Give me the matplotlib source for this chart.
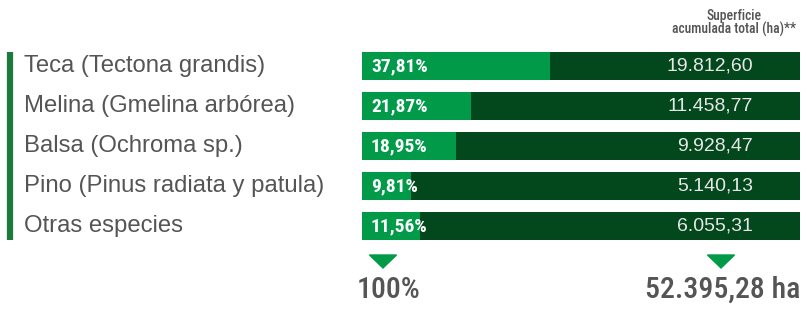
import matplotlib.pyplot as plt
from matplotlib.patches import Polygon
from matplotlib.transforms import blended_transform_factory

# datos
especies = ['Teca (Tectona grandis)', 'Melina (Gmelina arbórea)', 'Balsa (Ochroma sp.)',
            'Pino (Pinus radiata y patula)', 'Otras especies']
porcentajes = [37.81, 21.87, 18.95, 9.81, 11.56]
porcentajes_txt = ['37,81%', '21,87%', '18,95%', '9,81%', '11,56%']
superficie_txt = ['19.812,60', '11.458,77', '9.928,47', '5.140,13', '6.055,31']
total_pct = '100%'
total_ha = '52.395,28 ha'
titulo_col = 'Superficie\nacumulada total (ha)**'

VERDE_CLARO = '#009a49'
VERDE_OSCURO = '#03481c'
GRIS = '#555555'
ESCALA = 88  # ancho total de la barra en unidades de porcentaje

W, H = 808, 315
fig = plt.figure(figsize=(W / 100, H / 100), dpi=100)
ax = fig.add_axes([362 / W, 1 - 246 / H, 438 / W, 200 / H])
ax.set_xlim(0, ESCALA)
ax.set_ylim(len(especies) - 0.5, -0.5)
ax.axis('off')

y = range(len(especies))
ax.barh(y, ESCALA, height=0.7, color=VERDE_OSCURO)
ax.barh(y, porcentajes, height=0.7, color=VERDE_CLARO)

cond = ['Roboto Condensed', 'Liberation Sans']
trans = blended_transform_factory(fig.transFigure, ax.transData)
for i, (nom, p, s) in enumerate(zip(especies, porcentajes_txt, superficie_txt)):
    ax.text(24 / W, i, nom, transform=trans, ha='left', va='center',
            fontsize=17.2, color=GRIS, family='Liberation Sans')
    ax.text(1.8, i, p, ha='left', va='center', fontsize=14, fontweight='bold',
            color='white', family=cond)
    ax.text(753 / W, i, s, transform=trans, ha='right', va='center',
            fontsize=14, color='#e6e6e6', family='Liberation Sans')

ax.vlines(10 / W, -0.35, len(especies) - 0.65, transform=trans, color='#1b7a3c',
          linewidth=4.5, clip_on=False)

# triangulos
for cx in (383, 721):
    tri = Polygon([((cx - 13.5) / W, 1 - 255 / H), ((cx + 13.5) / W, 1 - 255 / H),
                   (cx / W, 1 - 268 / H)], closed=True, transform=fig.transFigure,
                  color=VERDE_CLARO)
    fig.add_artist(tri)

fig.text(357 / W, 1 - 290 / H, total_pct, ha='left', va='center', fontsize=21.5,
         fontweight='medium', color=GRIS, family=cond)
fig.text(800 / W, 1 - 290 / H, total_ha, ha='right', va='center', fontsize=21.5,
         fontweight='medium', color=GRIS, family=cond)
fig.text(734 / W, 1 - 23 / H, titulo_col, ha='center', va='center', fontsize=9.8,
         fontweight='medium', color=GRIS, family=cond, linespacing=0.9)

fig.savefig('out.png', dpi=100)
